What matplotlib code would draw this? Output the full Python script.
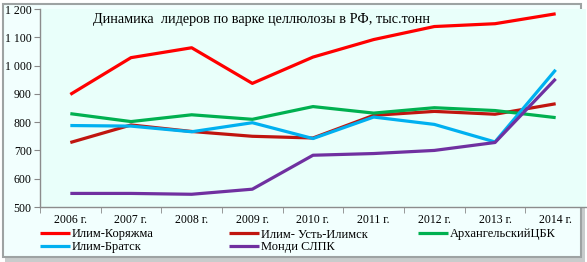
import matplotlib.pyplot as plt
from matplotlib.patches import Rectangle
from matplotlib.ticker import FuncFormatter

# ---- data (тыс. тонн) ----
years = ['2006 г.', '2007 г.', '2008 г.', '2009 г.', '2010 г.',
         '2011 г.', '2012 г.', '2013 г.', '2014 г.']
ilim_koryazhma = [898, 1028, 1063, 937, 1030, 1092, 1138, 1148, 1183]
ilim_ust_ilimsk = [728, 790, 767, 750, 744, 824, 838, 828, 865]
arkh_cbk = [830, 802, 826, 810, 855, 832, 851, 841, 816]
ilim_bratsk = [788, 786, 766, 798, 742, 818, 792, 730, 985]
mondi_slpk = [548, 548, 545, 563, 683, 689, 700, 728, 953]

series = [
    ('Илим-Коряжма', ilim_koryazhma, '#FF0000'),
    ('Илим- Усть-Илимск', ilim_ust_ilimsk, '#C0150F'),
    ('АрхангельскийЦБК', arkh_cbk, '#00B050'),
    ('Илим-Братск', ilim_bratsk, '#00B0F0'),
    ('Монди СЛПК', mondi_slpk, '#7030A0'),
]

W, H = 587, 262
plt.rcParams['font.family'] = ['Liberation Serif', 'DejaVu Serif']
fig = plt.figure(figsize=(W / 100, H / 100), dpi=100, facecolor='white')

# outer chart frame with a soft shadow (behind the axes)
fig.patches.append(Rectangle((5 / W, 0 / H), 580 / W, 252 / H, transform=fig.transFigure,
                             facecolor='#C8CCCC', edgecolor='none', zorder=-3))
fig.patches.append(Rectangle((3 / W, 5 / H), 578 / W, 253 / H, transform=fig.transFigure,
                             facecolor='#F2FFFE', edgecolor='#9EA3A3', linewidth=1.5, zorder=-2))

ax = fig.add_axes([40 / W, 1 - 207 / H, 546 / W, 198 / H])
ax.set_facecolor('#E9FFFA')

x = list(range(len(years)))
for name, vals, col in series:
    ax.plot(x, vals, color=col, linewidth=2.3, label=name, solid_capstyle='butt')

ax.set_xlim(-0.5, 8.5)
ax.set_ylim(500, 1200)
ax.set_yticks(range(500, 1201, 100))
ax.yaxis.set_major_formatter(FuncFormatter(lambda v, p: f'{int(v):,}'.replace(',', ' ')))
ax.set_xticks(x)
ax.set_xticklabels(years)
ax.set_xticks([i - 0.5 for i in range(len(years))], minor=True)
ax.tick_params(axis='x', which='major', length=0, pad=5, labelsize=8.5)
ax.tick_params(axis='x', which='minor', length=4, color='#888888', direction='out')
ax.tick_params(axis='y', length=4, color='#888888', labelsize=8.5, pad=2)

for s in ['top', 'right']:
    ax.spines[s].set_visible(False)
for s in ['left', 'bottom']:
    ax.spines[s].set_color('#8C8C8C')
    ax.spines[s].set_linewidth(1.0)

fig.text(93 / W, 1 - 20 / H, 'Динамика  лидеров по варке целлюлозы в РФ, тыс.тонн',
         fontsize=10.3, va='center', ha='left')

# legend: three columns, placed by hand
handles = ax.get_lines()
cols = [(40, [0, 3]), (229, [1, 4]), (418, [2])]
for xpx, idx in cols:
    fig.legend([handles[i] for i in idx], [series[i][0] for i in idx],
               loc='upper left', bbox_to_anchor=(xpx / W, 1 - 228.5 / H),
               frameon=False, fontsize=9, handlelength=2.4, handletextpad=0.15,
               labelspacing=0.05, borderpad=0, borderaxespad=0)

fig.savefig('out.png', dpi=100, facecolor=fig.get_facecolor())
